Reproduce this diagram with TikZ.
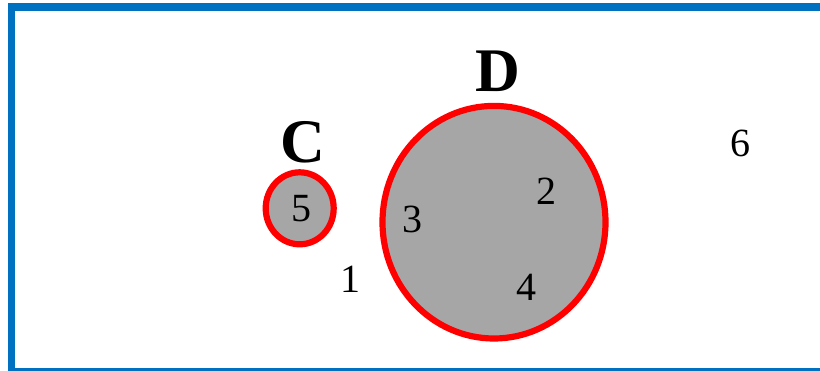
\documentclass[tikz,border=0pt]{standalone}
\usepackage{fontspec}
\setmainfont{Liberation Serif}
\usetikzlibrary{shapes.geometric}
\definecolor{frameblue}{HTML}{0070C0}
\definecolor{setgrey}{HTML}{A6A6A6}
\tikzset{
  setshape/.style={ellipse, draw=red, fill=setgrey, line width=6.2pt, inner sep=0pt},
  elem/.style={anchor=base, inner sep=0pt, font=\fontsize{40}{48}\selectfont},
  setlabel/.style={anchor=base, inner sep=0pt, font=\fontsize{62}{70}\selectfont\bfseries}
}
\begin{document}
\begin{tikzpicture}[x=1pt,y=-1pt]
\useasboundingbox (0,0) rectangle (820,370);
\begin{scope}
\clip (0,0) rectangle (820,370);
\draw[frameblue, line width=7.5pt] (11.3,7) rectangle (840,372);
\end{scope}
\node[setshape, minimum width=68pt, minimum height=72pt] (C) at (299.7,208.3) {};
\node[setshape, minimum width=223pt, minimum height=232.6pt] (D) at (494,222.2) {};
\node[setlabel] (Clab) at (303,162) {C};
\node[setlabel] (Dlab) at (498,91.7) {D};
\node[elem] (e5) at (301.7,221) {5};
\node[elem] (e3) at (412.7,232.7) {3};
\node[elem] (e2) at (546.7,204) {2};
\node[elem] (e4) at (526.7,300) {4};
\node[elem] (e1) at (350,292.3) {1};
\node[elem] (e6) at (740,156.7) {6};
\end{tikzpicture}
\end{document}
